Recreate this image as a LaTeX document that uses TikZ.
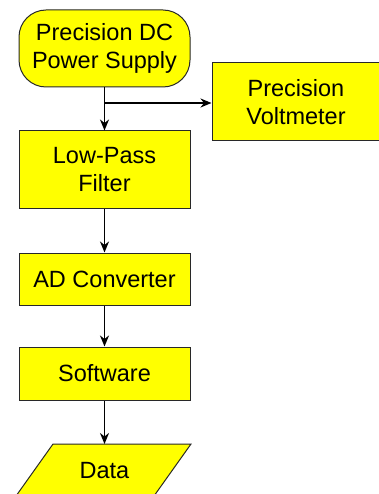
\documentclass[tikz,border=0pt]{standalone}
\usepackage{fontspec}
\setmainfont{Liberation Sans}
\usetikzlibrary{arrows.meta}
\definecolor{boxyellow}{RGB}{255,255,0}
\definecolor{edge}{RGB}{40,40,40}
\begin{document}
\begin{tikzpicture}[x=1pt,y=-1pt,
  box/.style={draw=edge, line width=1pt, fill=boxyellow, align=center, inner sep=0pt,
    font=\fontsize{23.5}{27.5}\selectfont},
  arr/.style={line width=1.6pt, -{Stealth[length=11pt,width=9pt,inset=3.5pt]}}]
\useasboundingbox (0,0) rectangle (379,494);
\node[box, rounded corners=27pt, minimum width=171pt, minimum height=77pt] (ps) at (104.5,48.5) {Precision DC\\Power Supply};
\node[box, minimum width=168pt, minimum height=78pt] (vm) at (296,102) {Precision\\Voltmeter};
\node[box, minimum width=171pt, minimum height=77pt] (lpf) at (104.5,169.5) {Low-Pass\\Filter};
\node[box, minimum width=171pt, minimum height=52pt] (ad) at (104.5,279) {AD Converter};
\node[box, minimum width=171pt, minimum height=53pt] (sw) at (104.5,373.5) {Software};
\draw[draw=edge, line width=1pt, fill=boxyellow] (53,444) -- (191,444) -- (154,496) -- (16,496) -- cycle;
\node[font=\fontsize{23.5}{27.5}\selectfont, inner sep=0pt] (data) at (104.5,471) {Data};
\coordinate (datatop) at (104.5,444);
\coordinate (br) at (104.5,103);
\draw[arr] (ps.south) -- (lpf.north);
\draw[arr] (br) -- (br -| vm.west);
\draw[arr] (lpf.south) -- (ad.north);
\draw[arr] (ad.south) -- (sw.north);
\draw[arr] (sw.south) -- (datatop);
\end{tikzpicture}
\end{document}
